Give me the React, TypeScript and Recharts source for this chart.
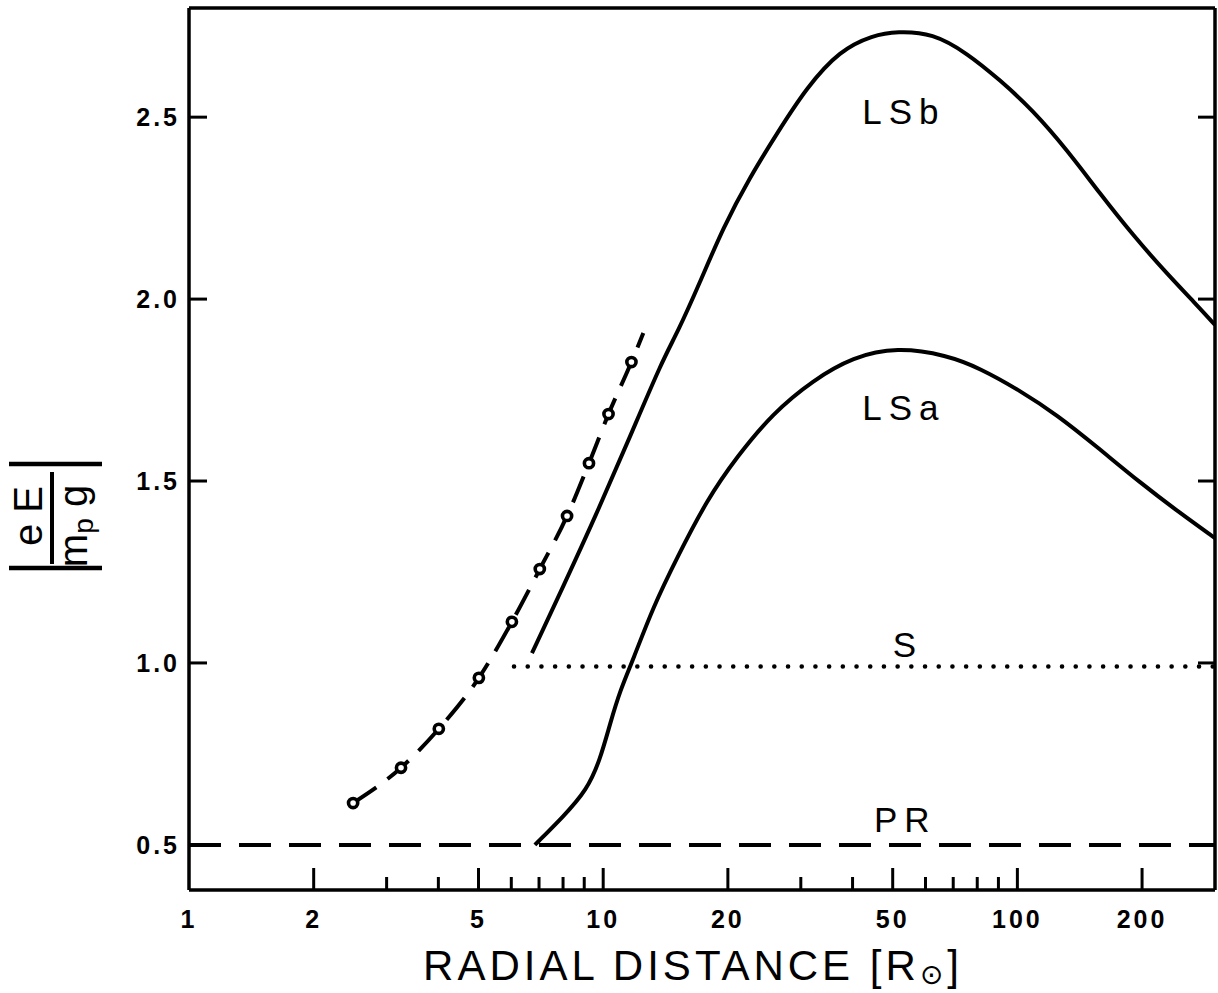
import React from "react";
import { LineChart, Line, XAxis, YAxis, ReferenceDot, Customized } from "recharts";

// tick values
const xMajorTicks = [1, 2, 5, 10, 20, 50, 100, 200];
const xMinorTicks = [3, 4, 6, 7, 8, 9, 30, 40, 60, 70, 80, 90];
const yTicks = [0.5, 1.0, 1.5, 2.0, 2.5];

// LSb curve
const lsbX = [6.73, 8.0, 9.66, 11.6, 13.9, 15.1, 17.1, 19.5, 22.6, 26.3, 31.0, 37.3, 44.8, 51.2, 62.5, 75.6, 90.8, 109, 132, 158, 190, 230, 271, 300];
const lsbY = [1.027, 1.209, 1.412, 1.621, 1.832, 1.907, 2.044, 2.198, 2.335, 2.456, 2.582, 2.684, 2.725, 2.736, 2.731, 2.676, 2.602, 2.519, 2.409, 2.291, 2.176, 2.069, 1.984, 1.929];

// LSa curve
const lsaX = [6.84, 8.0, 9.14, 9.83, 10.4, 11.0, 11.8, 13.2, 15.1, 17.8, 21.0, 25.7, 32.1, 40.1, 51.2, 67.6, 81.2, 101, 125, 156, 198, 247, 300];
const lsaY = [0.5, 0.577, 0.651, 0.734, 0.835, 0.926, 1.008, 1.154, 1.291, 1.448, 1.566, 1.687, 1.777, 1.841, 1.868, 1.846, 1.81, 1.75, 1.681, 1.593, 1.495, 1.412, 1.343];

// dashed curve with open circles (last point is the dash tail, no circle)
const obsX = [2.49, 3.25, 4.01, 5.01, 6.02, 7.03, 8.18, 9.24, 10.3, 11.7, 12.5];
const obsY = [0.615, 0.712, 0.819, 0.959, 1.113, 1.258, 1.404, 1.549, 1.684, 1.827, 1.907];
const obsCircles = 10;

// S (dotted) and PR (dashed) levels
const sX = [6.09, 300];
const sY = [0.99, 0.99];
const prX = [1, 300];
const prY = [0.5, 0.5];

// curve labels
const labelText = ["LSb", "LSa", "S", "PR"];
const labelX = [53.2, 53.2, 54.4, 53.6];
const labelY = [2.481, 1.668, 1.016, 0.536];

const toPts = (xs: number[], ys: number[]) => xs.map((x, i) => ({ x, y: ys[i] }));

const FONT = "'Liberation Sans', Arial, sans-serif";

function BottomTick(props: any) {
  const { x, y, payload } = props;
  const v = payload.value;
  const major = xMajorTicks.includes(v);
  const len = v === 1 ? 0 : major ? 22 : 13;
  return (
    <g>
      {len > 0 && <line x1={x} y1={y} x2={x} y2={y - len} stroke="#000" strokeWidth={3} />}
      {major && (
        <text x={x} y={y + 38} textAnchor="middle" fontSize={25} fontWeight="bold" fontFamily={FONT} letterSpacing={3} fill="#000">
          {v}
        </text>
      )}
    </g>
  );
}

function TopTick(props: any) {
  const { x, y, payload } = props;
  const v = payload.value;
  const major = xMajorTicks.includes(v);
  const len = v === 1 ? 0 : major ? 22 : 13;
  if (!len) return <g />;
  return <line x1={x} y1={y} x2={x} y2={y + len} stroke="#000" strokeWidth={3} />;
}

function LeftTick(props: any) {
  const { x, y, payload } = props;
  return (
    <g>
      <line x1={x} y1={y} x2={x + 18} y2={y} stroke="#000" strokeWidth={3} />
      <text x={x - 9} y={y + 9} textAnchor="end" fontSize={25} fontWeight="bold" fontFamily={FONT} letterSpacing={3} fill="#000">
        {payload.value.toFixed(1)}
      </text>
    </g>
  );
}

function RightTick(props: any) {
  const { x, y } = props;
  return <line x1={x} y1={y} x2={x - 17} y2={y} stroke="#000" strokeWidth={3} />;
}

function ObsDot(props: any) {
  const { cx, cy, index } = props;
  if (index >= obsCircles) return <g key={`d${index}`} />;
  return <circle key={`d${index}`} cx={cx} cy={cy} r={4.6} fill="#fff" stroke="#000" strokeWidth={3.6} />;
}

function Titles() {
  return (
    <g fill="#000" fontFamily={FONT}>
      <text x={693} y={980} textAnchor="middle" fontSize={42} letterSpacing={4}>
        RADIAL DISTANCE [R
        <tspan fontFamily="'DejaVu Sans'" fontSize={28} dy={4}>⊙</tspan>
        <tspan dy={-4}>]</tspan>
      </text>
      <g transform="translate(52,516) rotate(-90)">
        <line x1={52} y1={-43} x2={52} y2={50} stroke="#000" strokeWidth={4.5} />
        <line x1={-52} y1={-43} x2={-52} y2={50} stroke="#000" strokeWidth={4.5} />
        <line x1={-48} y1={0} x2={44} y2={0} stroke="#000" strokeWidth={4} />
        <text x={0} y={-10} textAnchor="middle" fontSize={40}>e E</text>
        <text x={-10} y={35} textAnchor="middle" fontSize={40}>
          m<tspan fontSize={28} dy={6}>p</tspan>
          <tspan dy={-6}> g</tspan>
        </text>
      </g>
    </g>
  );
}

export default function App() {
  const allX = [...xMajorTicks, ...xMinorTicks].sort((a, b) => a - b);
  return (
    <div style={{ position: "absolute", left: 0, top: 0, background: "#fff" }}>
      <LineChart width={1218} height={993} margin={{ top: 0, right: 0, bottom: 43, left: 109 }}>
        <XAxis
          dataKey="x"
          type="number"
          scale="log"
          domain={[1, 300]}
          allowDataOverflow
          ticks={allX}
          interval={0}
          height={60}
          tickSize={0}
          tickMargin={0}
          tick={<BottomTick />}
          axisLine={{ stroke: "#000", strokeWidth: 3.5 }}
        />
        <XAxis
          xAxisId="top"
          orientation="top"
          type="number"
          scale="log"
          domain={[1, 300]}
          allowDataOverflow
          ticks={allX}
          interval={0}
          height={8}
          tickSize={0}
          tickMargin={0}
          tick={<TopTick />}
          axisLine={{ stroke: "#000", strokeWidth: 3.5 }}
        />
        <YAxis
          type="number"
          domain={[0.376, 2.8]}
          allowDataOverflow
          ticks={yTicks}
          interval={0}
          width={80}
          tickSize={0}
          tickMargin={0}
          tick={<LeftTick />}
          axisLine={{ stroke: "#000", strokeWidth: 3.5 }}
        />
        <YAxis
          yAxisId="right"
          orientation="right"
          type="number"
          domain={[0.376, 2.8]}
          allowDataOverflow
          ticks={yTicks}
          interval={0}
          width={3}
          tickSize={0}
          tickMargin={0}
          tick={<RightTick />}
          axisLine={{ stroke: "#000", strokeWidth: 3.5 }}
        />
        <Line data={toPts(prX, prY)} dataKey="y" type="linear" stroke="#000" strokeWidth={4} strokeDasharray="32 18" dot={false} isAnimationActive={false} />
        <Line data={toPts(sX, sY)} dataKey="y" type="linear" stroke="#000" strokeWidth={4.5} strokeDasharray="0.1 13.6" strokeLinecap="round" dot={false} isAnimationActive={false} />
        <Line data={toPts(lsaX, lsaY)} dataKey="y" type="basis" stroke="#000" strokeWidth={4} dot={false} isAnimationActive={false} />
        <Line data={toPts(lsbX, lsbY)} dataKey="y" type="basis" stroke="#000" strokeWidth={4} dot={false} isAnimationActive={false} />
        <Line data={toPts(obsX, obsY)} dataKey="y" type="monotone" stroke="#000" strokeWidth={4} strokeDasharray="28 14" dot={<ObsDot />} isAnimationActive={false} />
        {labelText.map((t, i) => (
          <ReferenceDot
            key={t}
            x={labelX[i]}
            y={labelY[i]}
            r={0}
            shape={(p: any) => (
              <text x={p.cx} y={p.cy} textAnchor="middle" fontSize={35} fontFamily={FONT} letterSpacing={7} fill="#000">
                {t}
              </text>
            )}
          />
        ))}
        <Customized component={Titles} />
      </LineChart>
    </div>
  );
}
